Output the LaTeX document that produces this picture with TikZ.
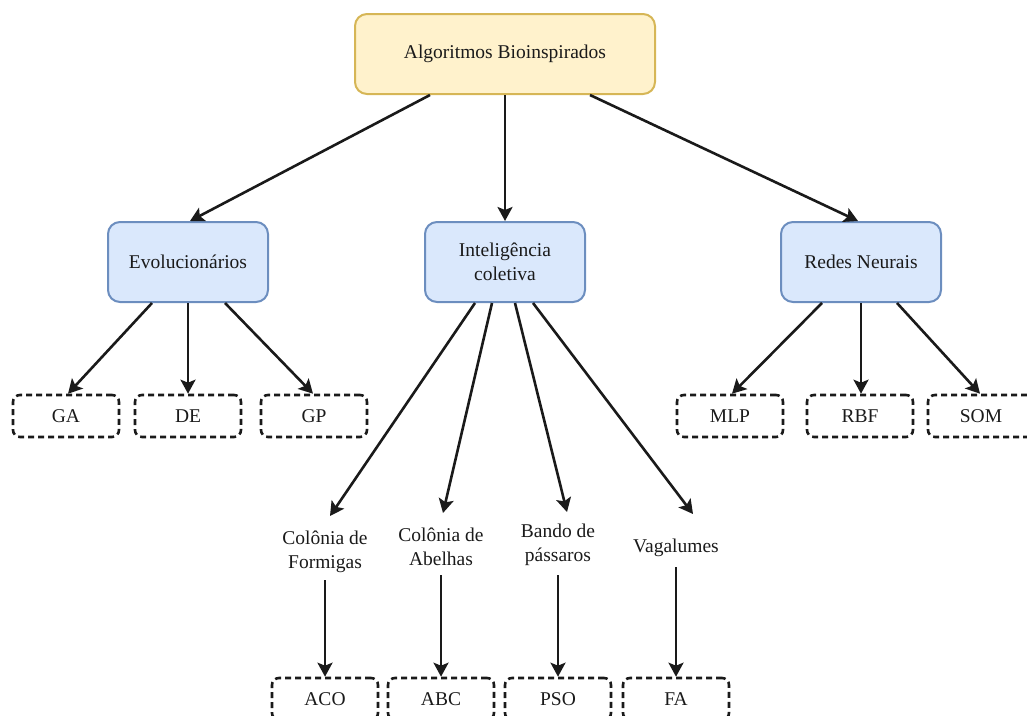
\documentclass[tikz,border=0pt]{standalone}
\usepackage{fontspec}
\setmainfont{Liberation Serif}
\usetikzlibrary{arrows.meta,calc}
\definecolor{rootfill}{HTML}{FFF2CC}
\definecolor{rootdraw}{HTML}{D6B656}
\definecolor{catfill}{HTML}{DAE8FC}
\definecolor{catdraw}{HTML}{6C8EBF}
\definecolor{ink}{HTML}{1A1A1A}
\tikzset{
  rootbox/.style={draw=rootdraw, fill=rootfill, line width=2pt, rounded corners=12pt,
    minimum width=300pt, minimum height=80pt, align=center, text=ink},
  catbox/.style={draw=catdraw, fill=catfill, line width=2pt, rounded corners=12pt,
    minimum width=160pt, minimum height=80pt, align=center, text=ink},
  leafbox/.style={draw=ink, line width=2.6pt, dash pattern=on 6pt off 4pt, rounded corners=7pt,
    minimum width=106pt, minimum height=42pt, text=ink},
  labeltext/.style={align=center, inner sep=2pt, text=ink},
  link/.style={draw=ink, line width=2.6pt, -{Stealth[length=14pt,width=15pt,inset=3pt]}}
}
\begin{document}
\begin{tikzpicture}[x=1pt, y=-1pt, font=\fontsize{19.5}{24}\selectfont]
\useasboundingbox (0,0) rectangle (1027,715);

% top level
\node[rootbox] (root) at (505,54) {Algoritmos Bioinspirados};

% categories
\node[catbox] (evo) at (188,262) {Evolucionários};
\node[catbox] (ic)  at (505,262) {Inteligência\\coletiva};
\node[catbox] (rn)  at (861,262) {Redes Neurais};

% evolutionary algorithms
\node[leafbox] (ga) at (66,416)  {GA};
\node[leafbox] (de) at (188,416) {DE};
\node[leafbox] (gp) at (314,416) {GP};

% neural networks
\node[leafbox] (mlp) at (730,416) {MLP};
\node[leafbox] (rbf) at (860,416) {RBF};
\node[leafbox] (som) at (981,416) {SOM};

% collective intelligence families
\node[labeltext] (cf) at (325,552) {Colônia de\\Formigas};
\node[labeltext] (ca) at (441,547) {Colônia de\\Abelhas};
\node[labeltext] (bp) at (558,545) {Bando de\\pássaros};
\node[labeltext] (vg) at (676,548) {Vagalumes};

\node[leafbox] (aco) at (325,699) {ACO};
\node[leafbox] (abc) at (441,699) {ABC};
\node[leafbox] (pso) at (558,699) {PSO};
\node[leafbox] (fa)  at (676,699) {FA};

% root to categories
\draw[link] ($(root.south)+(-75,0)$) -- ($(evo.north)+(2,0)$);
\draw[link] (root.south) -- (ic.north);
\draw[link] ($(root.south)+(85,0)$) -- ($(rn.north)+(-3,0)$);

% evolutionary
\draw[link] ($(evo.south)+(-36,0)$) -- ($(ga.north)+(2,0)$);
\draw[link] (evo.south) -- (de.north);
\draw[link] ($(evo.south)+(37,0)$) -- ($(gp.north)+(-1,0)$);

% neural networks
\draw[link] ($(rn.south)+(-39,0)$) -- ($(mlp.north)+(2,0)$);
\draw[link] (rn.south) -- ($(rbf.north)+(1,0)$);
\draw[link] ($(rn.south)+(36,0)$) -- ($(som.north)+(-1,0)$);

% collective intelligence
\draw[link] ($(ic.south)+(-30,0)$) -- ($(cf)+(5,-36)$);
\draw[link] ($(ic.south)+(-13,0)$) -- ($(ca)+(2,-34)$);
\draw[link] ($(ic.south)+(10,0)$)  -- ($(bp)+(9,-33)$);
\draw[link] ($(ic.south)+(28,0)$)  -- ($(vg)+(17,-34)$);

\draw[link] ($(cf)+(0,28)$) -- (aco.north);
\draw[link] ($(ca)+(0,28)$) -- (abc.north);
\draw[link] ($(bp)+(0,30)$) -- (pso.north);
\draw[link] ($(vg)+(0,19)$) -- (fa.north);
\end{tikzpicture}
\end{document}
